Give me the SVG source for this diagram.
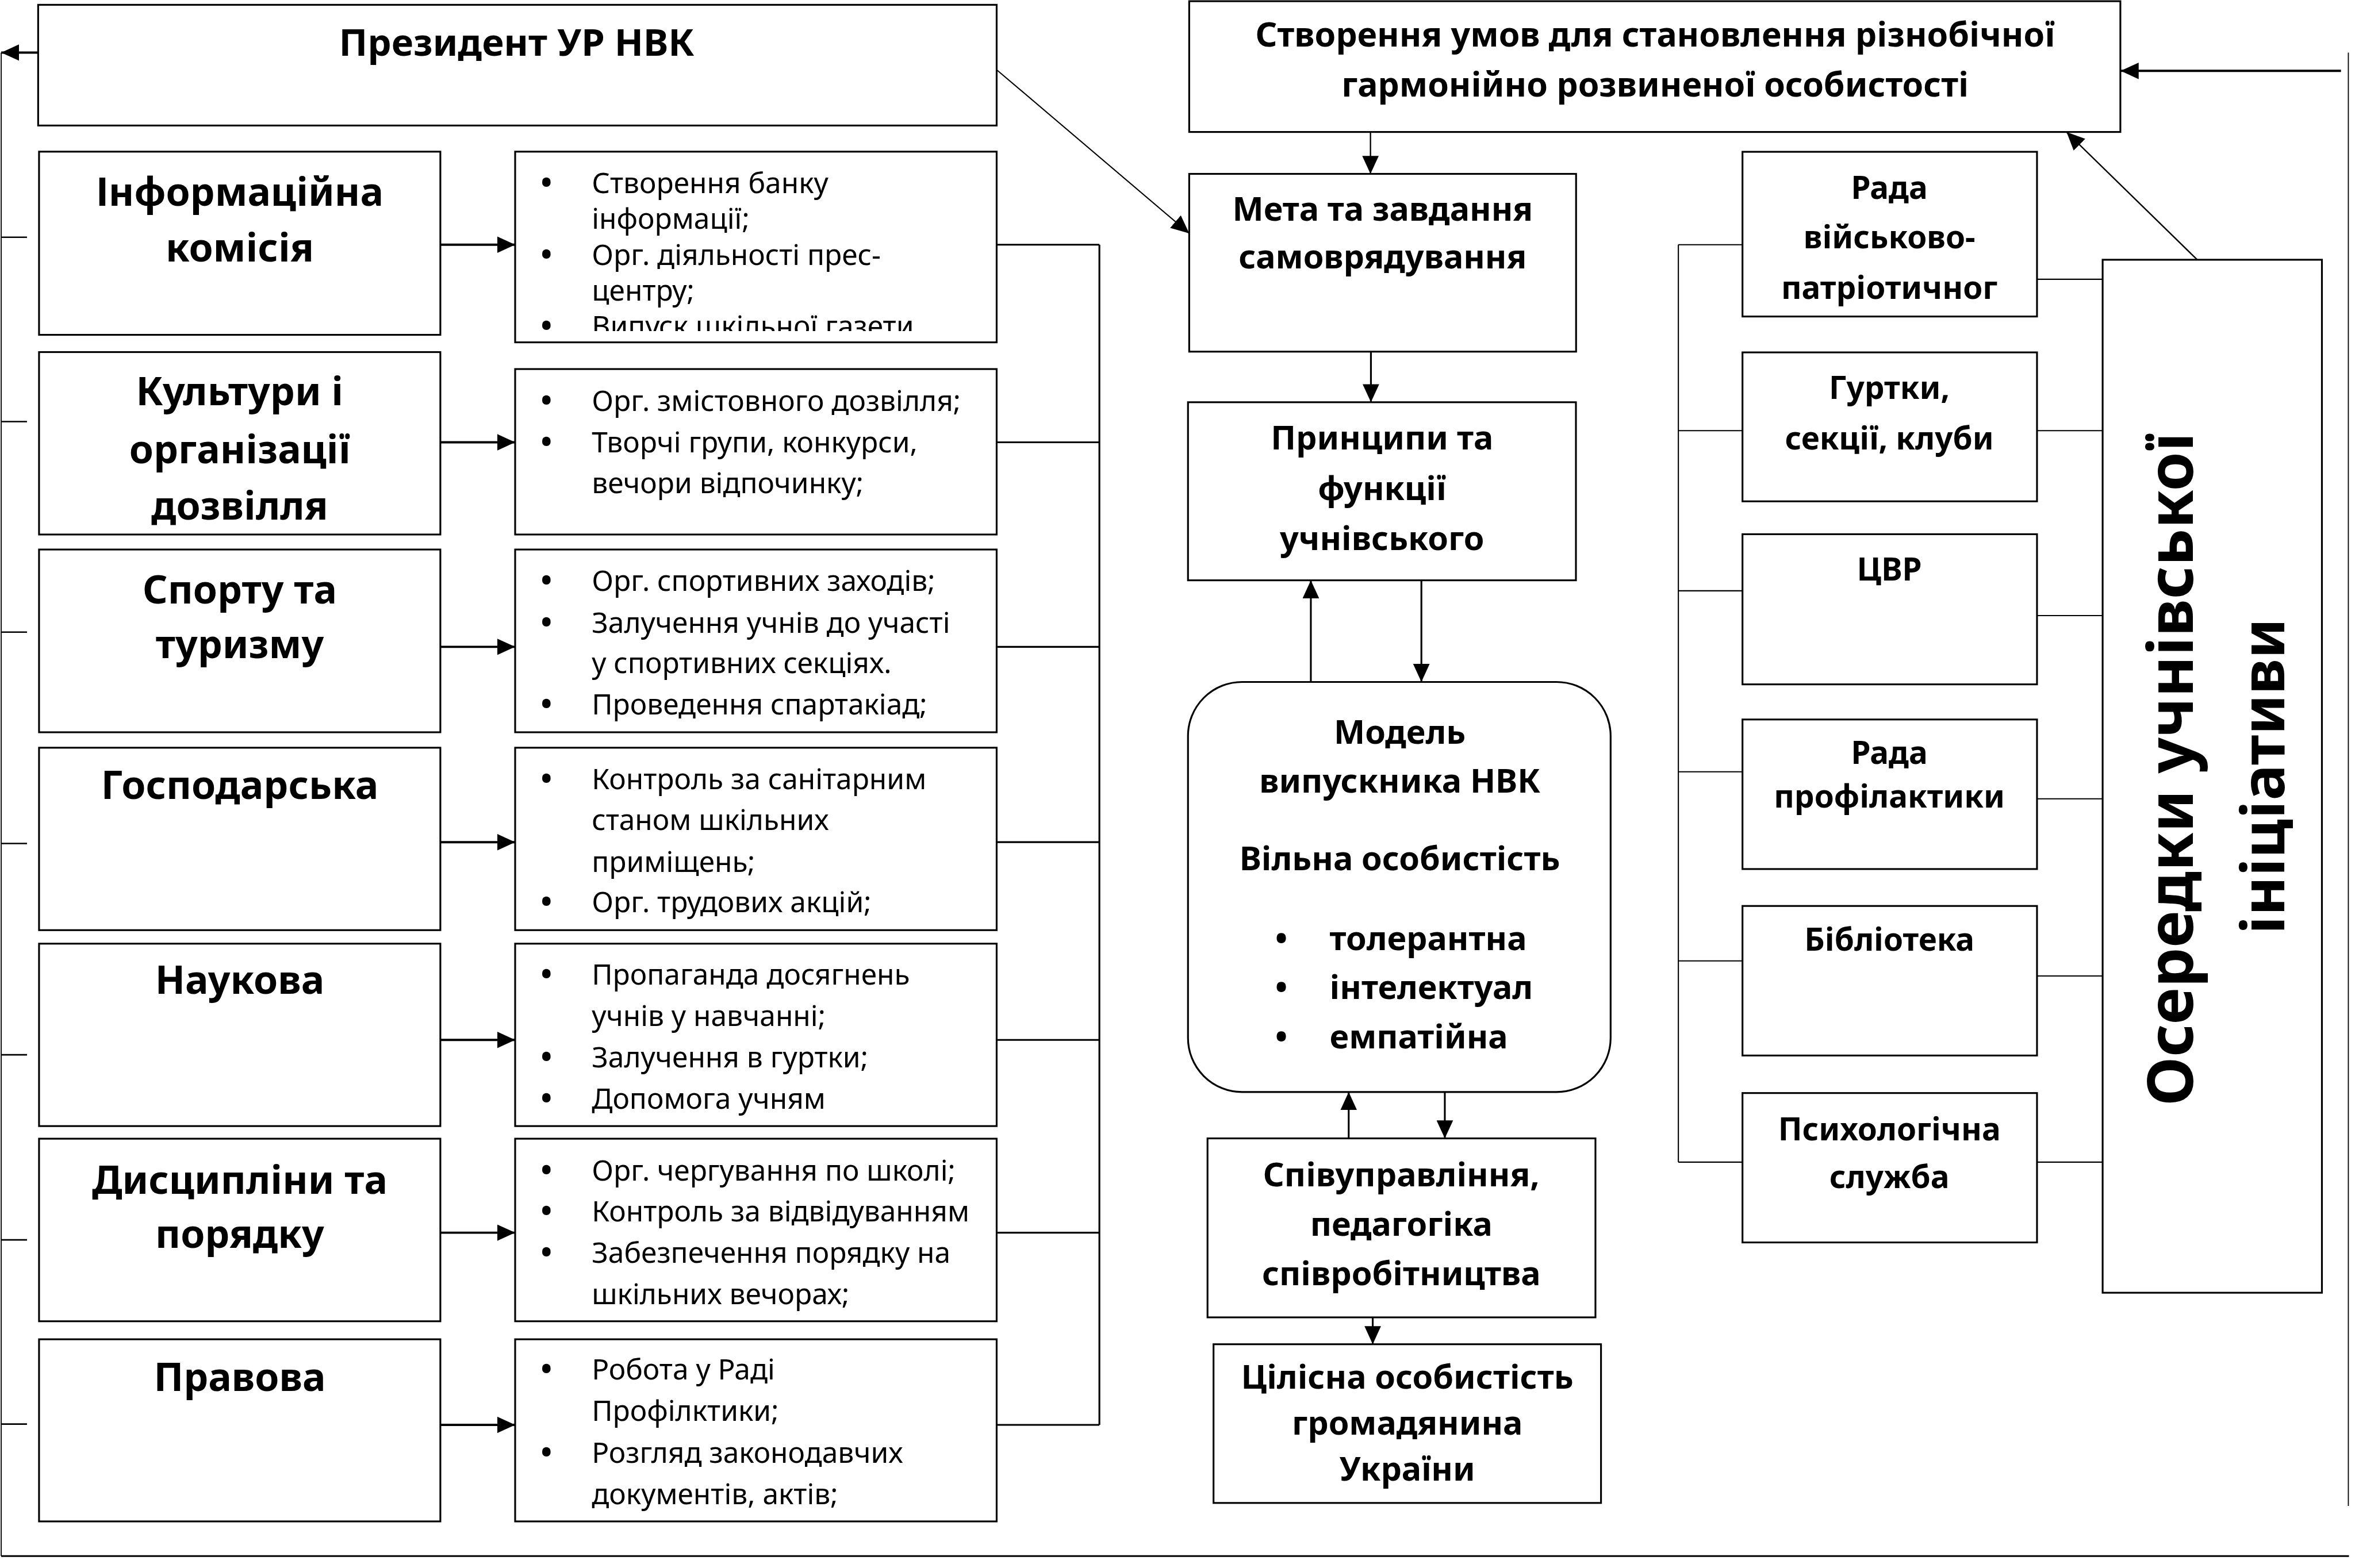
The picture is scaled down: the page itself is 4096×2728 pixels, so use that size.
<svg xmlns="http://www.w3.org/2000/svg" width="4096" height="2728" viewBox="0 0 4096 2728">
<style>
.box{fill:#fff;stroke:#000;stroke-width:1.2}
.ln{fill:none;stroke:#000;stroke-width:1}
.thin{fill:none;stroke:#000;stroke-width:0.7}
.thk{fill:none;stroke:#000;stroke-width:1.5}
.t{font-family:'Noto Sans','DejaVu Sans',sans-serif;fill:#000}
.hb{font-weight:700;text-anchor:middle}
.lh{font-size:26px}
.ch{font-size:22px}
.rh{font-size:21px}
.bl{font-size:19px}
.bu{font-size:20px;font-weight:700}
.big{font-size:40px}
</style>
<defs>
<marker id="ah" viewBox="0 0 12 11" refX="12" refY="5.5" markerWidth="12" markerHeight="11" orient="auto" markerUnits="userSpaceOnUse"><path d="M0,0 L12,5.5 L0,11 z" fill="#000"/></marker>
<clipPath id="c1"><rect x="343" y="101" width="320.6" height="119.5"/></clipPath>
</defs>
<rect x="0" y="0" width="4096" height="2728" fill="#fff"/>
<g transform="scale(2.6122)">
<g id="connectors">
<line class="thin" x1="0.8" y1="35" x2="0.8" y2="1036.4"/>
<line class="thk" x1="35.6" y1="35" x2="0.8" y2="35" marker-end="url(#ah)"/>
<line class="ln" x1="0.8" y1="1036.4" x2="1564" y2="1036.4" style="stroke-width:1.2"/>
<line class="thin" x1="1563.6" y1="35" x2="1563.6" y2="1003"/>
<line class="thk" x1="1558.7" y1="47.2" x2="1412" y2="47.2" marker-end="url(#ah)"/>
<path class="ln" d="M0.8,158H18M0.8,280.8H18M0.8,421H18M0.8,561.8H18M0.8,702.5H18M0.8,825.8H18M0.8,948.5H18"/>
<line class="thk" x1="293.2" y1="163" x2="343" y2="163" marker-end="url(#ah)"/>
<line class="thk" x1="293.2" y1="294.6" x2="343" y2="294.6" marker-end="url(#ah)"/>
<line class="thk" x1="293.2" y1="430.8" x2="343" y2="430.8" marker-end="url(#ah)"/>
<line class="thk" x1="293.2" y1="560.9" x2="343" y2="560.9" marker-end="url(#ah)"/>
<line class="thk" x1="293.2" y1="692.6" x2="343" y2="692.6" marker-end="url(#ah)"/>
<line class="thk" x1="293.2" y1="821" x2="343" y2="821" marker-end="url(#ah)"/>
<line class="thk" x1="293.2" y1="949" x2="343" y2="949" marker-end="url(#ah)"/>
<path class="ln" style="stroke-width:1.2" d="M663.6,163H732M663.6,294.6H732M663.6,430.8H732M663.6,560.9H732M663.6,692.6H732M663.6,821H732M663.6,949H732M732,163V949"/>
<line class="ln" style="stroke-width:0.8" x1="663.4" y1="46.3" x2="791.8" y2="155.4" marker-end="url(#ah)"/>
<line class="ln" style="stroke-width:0.9" x1="912.5" y1="87.9" x2="912.5" y2="115.8" marker-end="url(#ah)"/>
<line class="ln" style="stroke-width:1.2" x1="912.8" y1="234.2" x2="912.8" y2="267.9" marker-end="url(#ah)"/>
<line class="ln" style="stroke-width:1.2" x1="872.8" y1="454.2" x2="872.8" y2="386.5" marker-end="url(#ah)"/>
<line class="ln" style="stroke-width:1.2" x1="946.4" y1="386.5" x2="946.4" y2="454.2" marker-end="url(#ah)"/>
<line class="ln" style="stroke-width:1.2" x1="898" y1="758.2" x2="898" y2="727.3" marker-end="url(#ah)"/>
<line class="ln" style="stroke-width:1.2" x1="962" y1="727.3" x2="962" y2="758.2" marker-end="url(#ah)"/>
<line class="ln" style="stroke-width:1.2" x1="914" y1="877.4" x2="914" y2="895.3" marker-end="url(#ah)"/>
<line class="ln" style="stroke-width:0.9" x1="1463" y1="173" x2="1376" y2="88" marker-end="url(#ah)"/>
<path class="ln" style="stroke-width:0.8" d="M1117.5,163V774M1117.5,163H1160.2M1117.5,286.8H1160.2M1117.5,393.5H1160.2M1117.5,514H1160.2M1117.5,640H1160.2M1117.5,774H1160.2"/>
<path class="ln" style="stroke-width:0.8" d="M1356.3,186H1400M1356.3,286.8H1400M1356.3,410H1400M1356.3,532H1400M1356.3,650H1400M1356.3,774H1400"/>
</g>
<g id="president">
<rect class="box" x="25.4" y="3.2" width="638.2" height="80.4"/>
<text class="t hb" x="344" y="37" style="font-size:25px">Президент УР НВК</text>
</g>
<g id="goal">
<rect class="box" x="791.8" y="0.8" width="620" height="87.1"/>
<text class="t hb" x="1102" y="31" style="font-size:22.6px">Створення умов для становлення різнобічної</text>
<text class="t hb" x="1102" y="64.3" style="font-size:22.6px">гармонійно розвиненої особистості</text>
</g>
<g id="l1">
<rect class="box" x="26" y="101" width="267.2" height="122"/>
<text class="t hb lh" x="159.6" y="137">Інформаційна</text>
<text class="t hb lh" x="159.6" y="174">комісія</text>
</g>
<g id="l2">
<rect class="box" x="26" y="234.5" width="267.2" height="121.5"/>
<text class="t hb lh" x="159.6" y="270">Культури і</text>
<text class="t hb lh" x="159.6" y="308.6">організації</text>
<text class="t hb lh" x="159.6" y="346">дозвілля</text>
</g>
<g id="l3">
<rect class="box" x="26" y="366" width="267.2" height="121.7"/>
<text class="t hb lh" x="159.6" y="402">Спорту та</text>
<text class="t hb lh" x="159.6" y="438.5">туризму</text>
</g>
<g id="l4">
<rect class="box" x="26" y="498" width="267.2" height="121.5"/>
<text class="t hb lh" x="159.6" y="532">Господарська</text>
</g>
<g id="l5">
<rect class="box" x="26" y="628.5" width="267.2" height="121.5"/>
<text class="t hb lh" x="159.6" y="662">Наукова</text>
</g>
<g id="l6">
<rect class="box" x="26" y="758.4" width="267.2" height="121.6"/>
<text class="t hb lh" x="159.6" y="795">Дисципліни та</text>
<text class="t hb lh" x="159.6" y="831">порядку</text>
</g>
<g id="l7">
<rect class="box" x="26" y="892" width="267.2" height="121.3"/>
<text class="t hb lh" x="159.6" y="926.5">Правова</text>
</g>
<g id="r1">
<rect class="box" x="343" y="101" width="320.6" height="127"/>
<g clip-path="url(#c1)" class="t bl">
<text x="360" y="128.5"><tspan class="bu">•</tspan><tspan x="394">Створення банку</tspan></text>
<text x="394" y="152.4">інформації;</text>
<text x="360" y="176.3"><tspan class="bu">•</tspan><tspan x="394">Орг. діяльності прес-</tspan></text>
<text x="394" y="200.2">центру;</text>
<text x="360" y="224.1"><tspan class="bu">•</tspan><tspan x="394">Випуск шкільної газети</tspan></text>
</g>
</g>
<g id="r2">
<rect class="box" x="343" y="245.8" width="320.6" height="110.2"/>
<g class="t bl">
<text x="360" y="273.6"><tspan class="bu">•</tspan><tspan x="394">Орг. змістовного дозвілля;</tspan></text>
<text x="360" y="301.4"><tspan class="bu">•</tspan><tspan x="394">Творчі групи, конкурси,</tspan></text>
<text x="394" y="328.3">вечори відпочинку;</text>
</g>
</g>
<g id="r3">
<rect class="box" x="343" y="366" width="320.6" height="121.7"/>
<g class="t bl">
<text x="360" y="393.7"><tspan class="bu">•</tspan><tspan x="394">Орг. спортивних заходів;</tspan></text>
<text x="360" y="421.5"><tspan class="bu">•</tspan><tspan x="394">Залучення учнів до участі</tspan></text>
<text x="394" y="448.4">у спортивних секціях.</text>
<text x="360" y="476"><tspan class="bu">•</tspan><tspan x="394">Проведення спартакіад;</tspan></text>
</g>
</g>
<g id="r4">
<rect class="box" x="343" y="498" width="320.6" height="121.5"/>
<g class="t bl">
<text x="360" y="525.6"><tspan class="bu">•</tspan><tspan x="394">Контроль за санітарним</tspan></text>
<text x="394" y="552.9">станом шкільних</text>
<text x="394" y="580.6">приміщень;</text>
<text x="360" y="607.5"><tspan class="bu">•</tspan><tspan x="394">Орг. трудових акцій;</tspan></text>
</g>
</g>
<g id="r5">
<rect class="box" x="343" y="628.5" width="320.6" height="121.5"/>
<g class="t bl">
<text x="360" y="655.9"><tspan class="bu">•</tspan><tspan x="394">Пропаганда досягнень</tspan></text>
<text x="394" y="683.3">учнів у навчанні;</text>
<text x="360" y="710.9"><tspan class="bu">•</tspan><tspan x="394">Залучення в гуртки;</tspan></text>
<text x="360" y="738.3"><tspan class="bu">•</tspan><tspan x="394">Допомога учням</tspan></text>
</g>
</g>
<g id="r6">
<rect class="box" x="343" y="758.4" width="320.6" height="121.6"/>
<g class="t bl">
<text x="360" y="786.3"><tspan class="bu">•</tspan><tspan x="394">Орг. чергування по школі;</tspan></text>
<text x="360" y="813.6"><tspan class="bu">•</tspan><tspan x="394">Контроль за відвідуванням</tspan></text>
<text x="360" y="841.2"><tspan class="bu">•</tspan><tspan x="394">Забезпечення порядку на</tspan></text>
<text x="394" y="868.5">шкільних вечорах;</text>
</g>
</g>
<g id="r7">
<rect class="box" x="343" y="892" width="320.6" height="121.3"/>
<g class="t bl">
<text x="360" y="918.9"><tspan class="bu">•</tspan><tspan x="394">Робота у Раді</tspan></text>
<text x="394" y="946.2">Профілктики;</text>
<text x="360" y="974.4"><tspan class="bu">•</tspan><tspan x="394">Розгляд законодавчих</tspan></text>
<text x="394" y="1001.7">документів, актів;</text>
</g>
</g>
<g id="meta">
<rect class="box" x="791.8" y="115.8" width="257.6" height="118.4"/>
<text class="t hb ch" x="920.6" y="147">Мета та завдання</text>
<text class="t hb ch" x="920.6" y="178.6">самоврядування</text>
</g>
<g id="pryntsypy">
<rect class="box" x="791" y="267.9" width="258.3" height="118.6"/>
<text class="t hb ch" x="920.2" y="299.5">Принципи та</text>
<text class="t hb ch" x="920.2" y="333">функції</text>
<text class="t hb ch" x="920.2" y="366.5">учнівського</text>
</g>
<g id="model">
<rect class="box" x="791" y="454.2" width="281.4" height="273.1" rx="36" ry="36"/>
<text class="t hb ch" x="932" y="495.4">Модель</text>
<text class="t hb ch" x="932" y="528">випускника НВК</text>
<text class="t hb ch" x="932" y="579.6">Вільна особистість</text>
<g class="t ch" style="font-weight:700">
<text x="849" y="632.9">•<tspan x="885.3">толерантна</tspan></text>
<text x="849" y="665.5">•<tspan x="885.3">інтелектуал</tspan></text>
<text x="849" y="698.2">•<tspan x="885.3">емпатійна</tspan></text>
</g>
</g>
<g id="spivupravlinnia">
<rect class="box" x="804" y="758.2" width="258.3" height="119.2"/>
<text class="t hb ch" x="933" y="790">Співуправління,</text>
<text class="t hb ch" x="933" y="823">педагогіка</text>
<text class="t hb ch" x="933" y="856">співробітництва</text>
</g>
<g id="tsilisna">
<rect class="box" x="808" y="895.3" width="258" height="105.7"/>
<text class="t hb ch" x="937" y="925">Цілісна особистість</text>
<text class="t hb ch" x="937" y="955.5">громадянина</text>
<text class="t hb ch" x="937" y="986">України</text>
</g>
<g id="s1">
<rect class="box" x="1160.2" y="101.1" width="196.1" height="109.7"/>
<text class="t hb rh" x="1258" y="132.4">Рада</text>
<text class="t hb rh" x="1258" y="165.4">військово-</text>
<text class="t hb rh" x="1258" y="198.9">патріотичног</text>
</g>
<g id="s2">
<rect class="box" x="1160.2" y="234.7" width="196.1" height="99.2"/>
<text class="t hb rh" x="1258" y="265.8">Гуртки,</text>
<text class="t hb rh" x="1258" y="299.3">секції, клуби</text>
</g>
<g id="s3">
<rect class="box" x="1160.2" y="355.8" width="196.1" height="100"/>
<text class="t hb rh" x="1258" y="386.5">ЦВР</text>
</g>
<g id="s4">
<rect class="box" x="1160.2" y="479.2" width="196.1" height="99.6"/>
<text class="t hb rh" x="1258" y="508.8">Рада</text>
<text class="t hb rh" x="1258" y="537.9">профілактики</text>
</g>
<g id="s5">
<rect class="box" x="1160.2" y="603.4" width="196.1" height="99.6"/>
<text class="t hb rh" x="1258" y="633.1">Бібліотека</text>
</g>
<g id="s6">
<rect class="box" x="1160.2" y="728" width="196.1" height="99.5"/>
<text class="t hb rh" x="1258" y="759.7">Психологічна</text>
<text class="t hb rh" x="1258" y="791.2">служба</text>
</g>
<g id="oseredky">
<rect class="box" x="1400" y="173" width="146" height="688"/>
<text class="t hb big" x="1460" y="512.5" transform="rotate(-90 1460 512.5)" style="font-size:42px">Осередки учнівської</text>
<text class="t hb big" x="1521" y="517" transform="rotate(-90 1521 517)">ініціативи</text>
</g>
</g>
</svg>
